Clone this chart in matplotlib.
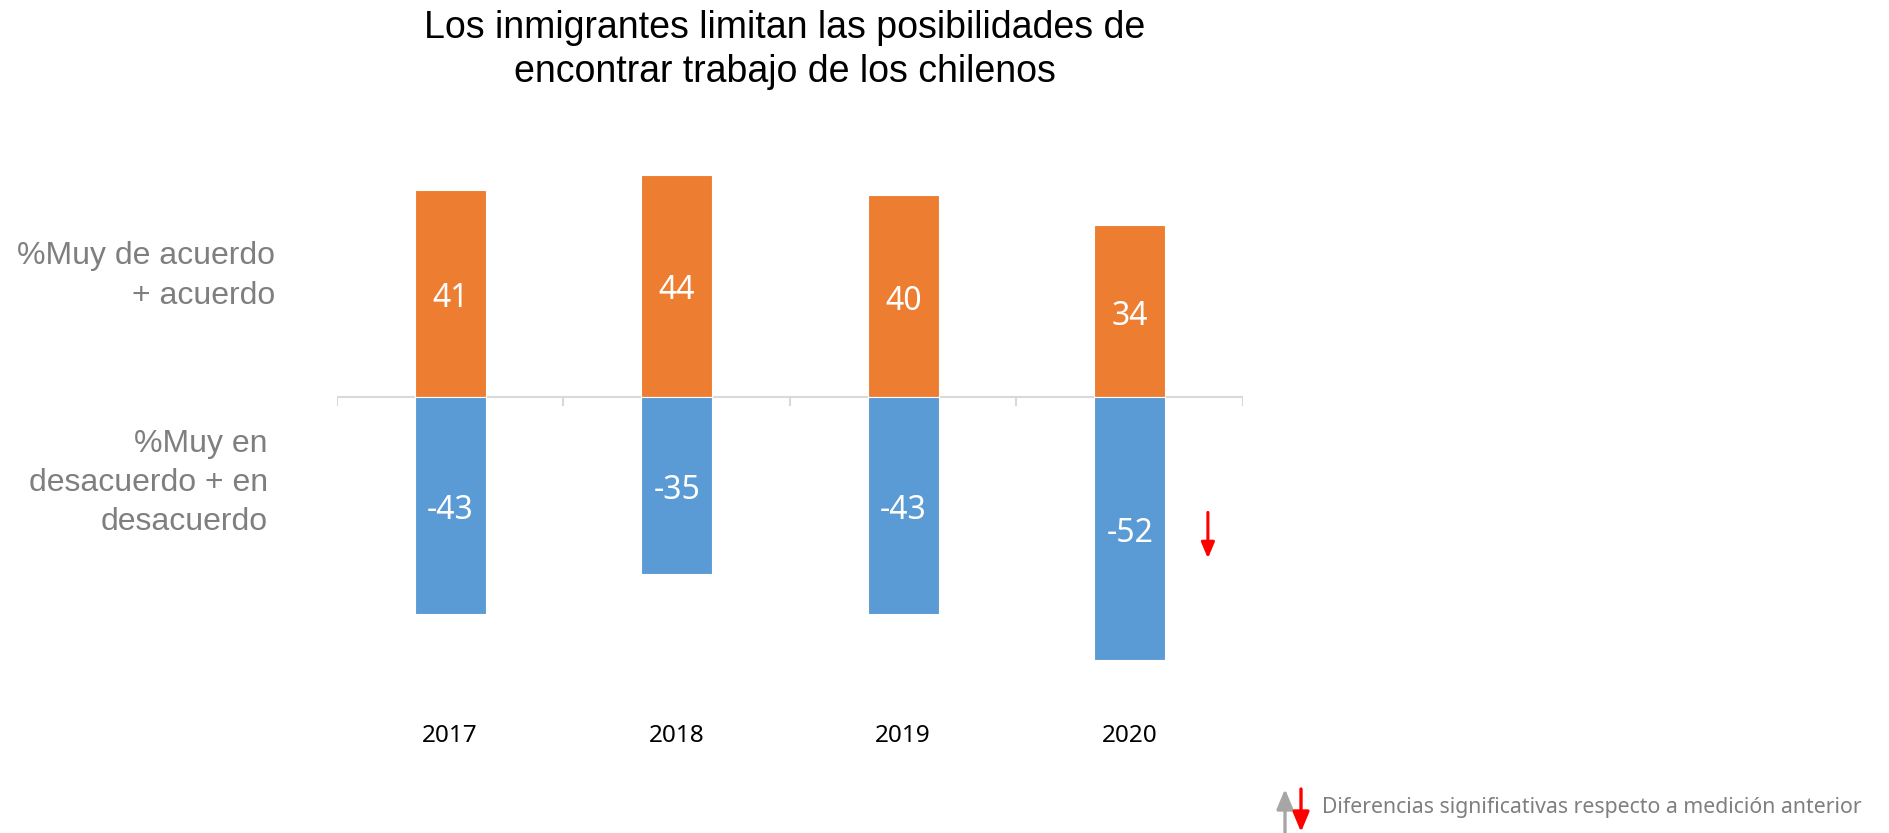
import matplotlib
matplotlib.use("Agg")
import matplotlib.pyplot as plt
from matplotlib.patches import FancyArrowPatch
import numpy as np

# data
years = ["2017", "2018", "2019", "2020"]
agree = [41, 44, 40, 34]
disagree = [-43, -35, -43, -52]
# significant change vs previous measurement: 0 none, -1 down, 1 up
sig_disagree = [0, 0, 0, -1]

title = "Los inmigrantes limitan las posibilidades de\nencontrar trabajo de los chilenos"
label_agree = "%Muy de acuerdo\n+ acuerdo"
label_disagree = "%Muy en\ndesacuerdo + en\ndesacuerdo"
legend_text = "Diferencias significativas respecto a medición anterior"

orange = "#ED7D31"
blue = "#5B9BD5"
grey_txt = "#7F7F7F"

W, H = 1890, 833
fig = plt.figure(figsize=(W / 100, H / 100), dpi=100)
ax = fig.add_axes([337 / W, 1 - 750.5 / H, 906 / W, (750.5 - 144.5) / H])
ax.set_xlim(-0.5, 3.5)
ax.set_ylim(-70, 50)
ax.axis("off")

x = np.arange(len(years))
w = 0.315
ax.bar(x, agree, width=w, color=orange, edgecolor="white", linewidth=0.8, zorder=2)
ax.bar(x, disagree, width=w, color=blue, edgecolor="white", linewidth=0.8, zorder=2)

# zero line with category separators
ax.axhline(0, color="#D9D9D9", lw=1.5, zorder=1)
for b in np.arange(-0.5, len(years), 1.0):
    ax.plot([b, b], [0, -1.6], color="#D9D9D9", lw=1.5, zorder=1)

font_vals = ["Noto Sans", "DejaVu Sans"]
for i in range(len(years)):
    ax.text(x[i], agree[i] / 2 - 1, str(agree[i]), ha="center", va="center",
            color="white", fontsize=23, family=font_vals)
    ax.text(x[i], disagree[i] / 2 - 1, str(disagree[i]), ha="center", va="center",
            color="white", fontsize=23, family=font_vals)
    ax.text(x[i], -67.2, years[i], ha="center", va="center",
            color="black", fontsize=17.5, family=font_vals)
    if sig_disagree[i] < 0:
        ax.annotate("", xy=(x[i] + 0.345, -32.5), xytext=(x[i] + 0.345, -22.3),
                    arrowprops=dict(arrowstyle="-|>,head_width=0.4,head_length=0.95",
                                    color="red", lw=2.2))

fig.text(785 / W, 1 - 50 / H, title, ha="center", va="center",
         fontsize=27, family="Liberation Sans", linespacing=1.3)
fig.text(275 / W, 1 - 276 / H, label_agree, ha="right", va="center",
         fontsize=23, family="Liberation Sans", color=grey_txt, linespacing=1.4)
fig.text(268 / W, 1 - 483 / H, label_disagree, ha="right", va="center",
         fontsize=23, family="Liberation Sans", color=grey_txt, linespacing=1.4)

# legend for significance arrows (display pixels, origin bottom-left)
fig.patches.append(FancyArrowPatch(
    (1285, 0), (1285, H - 789), transform=None,
    arrowstyle="-|>,head_width=5,head_length=12", shrinkA=0, shrinkB=0,
    color="#A6A6A6", lw=2.4, mutation_scale=1))
fig.patches.append(FancyArrowPatch(
    (1301, H - 789), (1301, 1), transform=None,
    arrowstyle="-|>,head_width=5,head_length=12", shrinkA=0, shrinkB=0,
    color="red", lw=2.4, mutation_scale=1))
fig.text(1322 / W, 1 - 808 / H, legend_text, ha="left", va="center",
         fontsize=15.3, family=font_vals, color=grey_txt)

fig.savefig("out.png", dpi=100, facecolor="white")
